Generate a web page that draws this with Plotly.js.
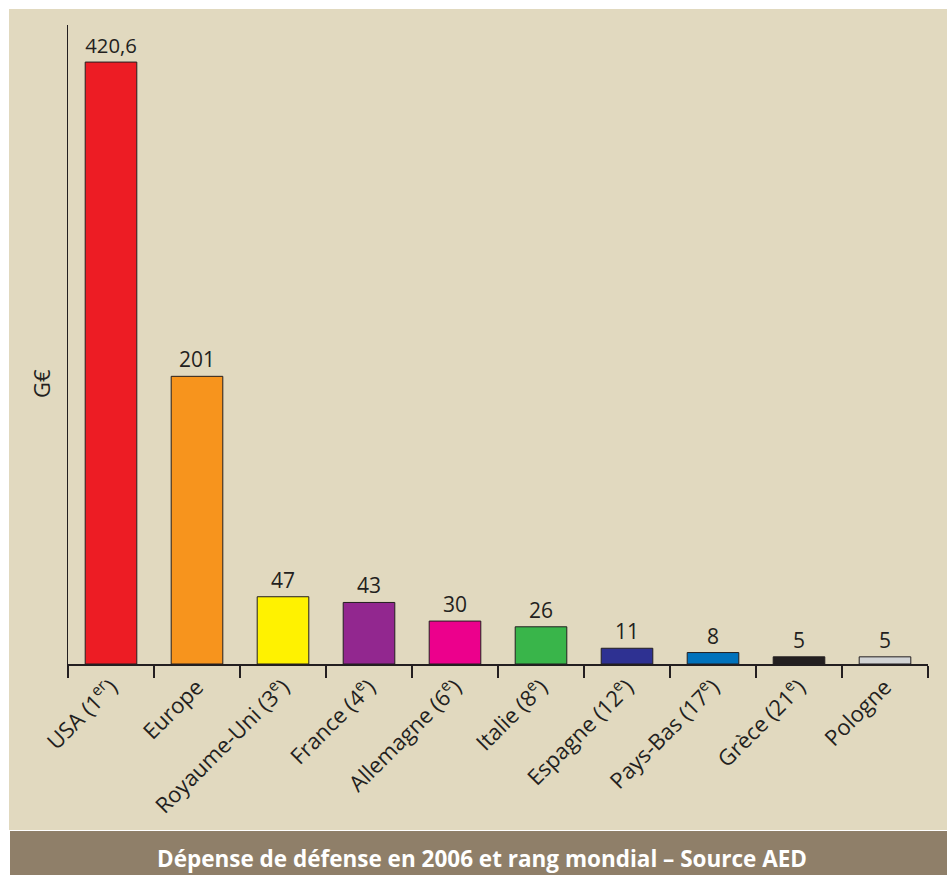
<!DOCTYPE html>
<html>
<head>
<meta charset="utf-8">
<script src="https://cdn.plot.ly/plotly-3.0.1.min.js"></script>
<style>
html,body{margin:0;padding:0;background:#ffffff;}
#chart{width:947px;height:875px;}
</style>
</head>
<body>
<div id="chart"></div>
<script>
// ---- data ----
const categories = [
  "USA (1<sup>er</sup>)", "Europe", "Royaume-Uni (3<sup>e</sup>)", "France (4<sup>e</sup>)",
  "Allemagne (6<sup>e</sup>)", "Italie (8<sup>e</sup>)", "Espagne (12<sup>e</sup>)",
  "Pays-Bas (17<sup>e</sup>)", "Grèce (21<sup>e</sup>)", "Pologne"
];
const values = [420.6, 201, 47, 43, 30, 26, 11, 8, 5, 5];
const barColors = ["#ed1c24", "#f7941d", "#fff200", "#92278f", "#ec008c",
                   "#39b54a", "#2e3192", "#0072bc", "#231f20", "#d1d3d4"];
const valueLabels = values.map(v => String(v).replace('.', ','));
const yTitle = "G€";
const caption = "Dépense de défense en 2006 et rang mondial – Source AED";

// ---- layout geometry ----
const W = 947, H = 875;
const M = {l: 68, r: 19, t: 25, b: 211};
const pw = W - M.l - M.r, ph = H - M.t - M.b;
const px = x => (x - M.l) / pw;
const py = y => (H - M.b - y) / ph;

const ink = "#231f20";
const font = "'Open Sans', 'Liberation Sans', sans-serif";

const trace = {
  type: "bar",
  x: categories,
  y: values,
  text: valueLabels,
  textposition: "outside",
  textfont: {family: font, size: 21, color: ink},
  cliponaxis: false,
  width: 0.6,
  marker: {color: barColors, line: {color: ink, width: 1}},
  hoverinfo: "none"
};

const layout = {
  width: W, height: H,
  margin: M,
  paper_bgcolor: "#ffffff",
  plot_bgcolor: "rgba(0,0,0,0)",
  showlegend: false,
  bargap: 0.4,
  xaxis: {
    type: "category",
    range: [-0.5, categories.length - 0.5],
    showline: true, linecolor: ink, linewidth: 1.5,
    ticks: "outside", ticklen: 12, tickwidth: 1.5, tickcolor: ink,
    tickson: "boundaries",
    tickangle: -45,
    tickfont: {family: font, size: 22, color: ink},
    showgrid: false, zeroline: false, fixedrange: true
  },
  yaxis: {
    range: [0, 446.5],
    showline: true, linecolor: ink, linewidth: 1.5,
    ticks: "", showticklabels: false,
    showgrid: false, zeroline: false, fixedrange: true
  },
  shapes: [
    {type: "rect", xref: "paper", yref: "paper", layer: "below",
     x0: px(9), x1: px(947), y0: py(830), y1: py(9),
     fillcolor: "#e1d9bf", line: {width: 0}},
    {type: "rect", xref: "paper", yref: "paper", layer: "below",
     x0: px(10), x1: px(947), y0: py(875), y1: py(831),
     fillcolor: "#8f7f69", line: {width: 0}}
  ],
  annotations: [
    {text: yTitle, xref: "paper", yref: "paper", x: px(41), y: py(384),
     showarrow: false, textangle: -90, xanchor: "center", yanchor: "middle",
     font: {family: font, size: 22, color: ink}},
    {text: "<b>" + caption + "</b>", xref: "paper", yref: "paper",
     x: px(482), y: py(858), showarrow: false, xanchor: "center", yanchor: "middle",
     font: {family: font, size: 22.5, color: "#ffffff"}}
  ]
};

Plotly.newPlot("chart", [trace], layout, {displayModeBar: false, staticPlot: true});
</script>
</body>
</html>
